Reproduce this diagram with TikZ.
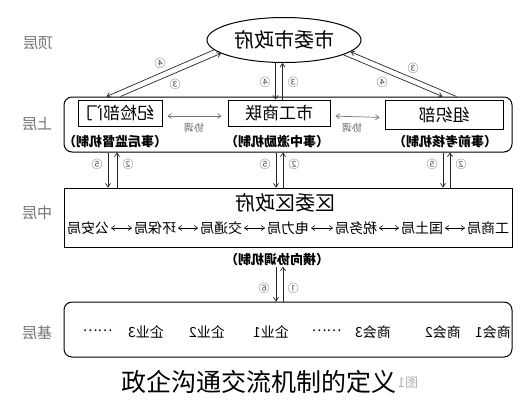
\documentclass[tikz,border=0pt]{standalone}
\usepackage{fontspec}
\setmainfont{Noto Sans CJK SC}
\usepackage{graphicx}
\usetikzlibrary{shapes.geometric,arrows.meta,calc}
\newcommand{\mr}[1]{\reflectbox{#1}}
\begin{document}
\begin{tikzpicture}[x=1pt,y=-1pt,line width=0.8pt,
  >={Straight Barb[length=3.5pt,width=5pt]},
  lyr/.style={text=black!55,font=\fontsize{15}{15}\selectfont,inner sep=0pt},
  inbox/.style={draw,line width=0.9pt,inner sep=0pt,font=\fontsize{17}{17}\selectfont},
  big/.style={draw,line width=1pt,inner sep=0pt,minimum width=448pt},
  sub/.style={font=\bfseries\fontsize{13}{13}\selectfont,inner sep=0pt},
  bur/.style={font=\fontsize{14}{14}\selectfont,inner sep=1pt},
  num/.style={font=\fontsize{11}{11}\selectfont,text=black!65,inner sep=0pt},
  xt/.style={font=\fontsize{10}{10}\selectfont,text=black!60,inner sep=0pt},
  ent/.style={font=\fontsize{14}{14}\selectfont,inner sep=0pt},
  arr/.style={->,line width=0.7pt,black!85},
  garr/.style={<->,line width=0.7pt,black!55},
  barr/.style={<->,line width=0.6pt,shorten <=0.5pt,shorten >=0.5pt}]
\useasboundingbox (0,0) rectangle (527,400);
\fill[white] (0,0) rectangle (527,400);

% layer labels
\node[lyr] (Ltop) at (38,43) {\mr{顶层}};
\node[lyr] (Lup)  at (37,124) {\mr{上层}};
\node[lyr] (Lmid) at (37,213) {\mr{中层}};
\node[lyr] (Lbas) at (37,333) {\mr{基层}};

% top ellipse
\node[ellipse,draw,line width=1pt,minimum width=154pt,minimum height=45pt,inner sep=0pt,
      font=\fontsize{20}{20}\selectfont] (gov) at (284,40) {\mr{市委市政府}};

% upper layer
\node[big,rounded corners=8pt,minimum height=55pt] (upper) at (288,124.5) {};
\node[inbox,minimum width=84pt,minimum height=26pt] (jj) at (120,113) {\mr{纪检部门}};
\node[inbox,minimum width=102pt,minimum height=26pt] (gsl) at (279,113) {\mr{市工商联}};
\node[inbox,minimum width=118pt,minimum height=29pt] (zzb) at (444,114.5) {\mr{组织部}};
\node[sub] (s1) at (115,142) {\mr{（事后监督机制）}};
\node[sub] (s2) at (277,142) {\mr{（事中激励机制）}};
\node[sub] (s3) at (445,142) {\mr{（事前考核机制）}};
\draw[garr,shorten <=5pt,shorten >=6pt] ([yshift=-3pt]jj.east) -- ([yshift=-3pt]gsl.west);
\draw[garr,shorten <=5pt,shorten >=5pt] ([yshift=-3pt]gsl.east) -- ([yshift=-3pt]zzb.west);
\node[xt] (xt1) at (194,128) {\mr{协调}};
\node[xt] (xt2) at (352,128) {\mr{协调}};

% middle layer
\node[big,minimum height=59pt] (mid) at (288,217.5) {};
\node[font=\fontsize{20}{20}\selectfont,inner sep=0pt] (qw) at (285,203) {\mr{区委区政府}};
\node[bur] (b1) at (88,228) {\mr{公安局}};
\node[bur] (b2) at (155,228) {\mr{环保局}};
\node[bur] (b3) at (221,228) {\mr{交通局}};
\node[bur] (b4) at (288,228) {\mr{电力局}};
\node[bur] (b5) at (356,228) {\mr{税务局}};
\node[bur] (b6) at (422,228) {\mr{国土局}};
\node[bur] (b7) at (488,228) {\mr{工商局}};
\foreach \a/\b in {b1/b2,b2/b3,b3/b4,b4/b5,b5/b6,b6/b7}
  \draw[barr] (\a.east) -- (\b.west);
\node[sub] (hx) at (277,260) {\mr{（横向协调机制）}};

% base layer
\node[big,rounded corners=8pt,minimum height=55pt] (base) at (288,329.5) {};
\node[ent] (e1) at (98,331) {\mr{……}};
\node[ent] (e2) at (146,332) {\mr{企业3}};
\node[ent] (e3) at (207,332) {\mr{企业2}};
\node[ent] (e4) at (271,332) {\mr{企业1}};
\node[ent] (e5) at (327,331) {\mr{……}};
\node[ent] (e6) at (373,332) {\mr{商会3}};
\node[ent] (e7) at (443,332) {\mr{商会2}};
\node[ent] (e8) at (493,332) {\mr{商会1}};

% connectors top <-> upper
\coordinate (pL4) at ($(upper.north west)+(43,0)$);
\coordinate (pL3) at ($(upper.north west)+(57,0)$);
\coordinate (pR4) at ($(upper.north west)+(379,0)$);
\coordinate (pR3) at ($(upper.north west)+(393,0)$);
\draw[arr] (gov.188) -- (pL4);
\draw[arr] (pL3) -- (gov.192);
\draw[arr] (gov.346) -- (pR4);
\draw[arr] (pR3) -- (gov.350);
\coordinate (pC4) at ($(gsl.north)+(-3.5,0)$);
\coordinate (pC3) at ($(gsl.north)+(3.5,0)$);
\draw[arr] (pC4 |- gov.south) -- (pC4);
\draw[arr] (pC3) -- (pC3 |- gov.south);
\node[num] (n1) at (160,63) {\mr{④}};
\node[num] (n2) at (175,84) {\mr{③}};
\node[num] (n3) at (265,82) {\mr{④}};
\node[num] (n4) at (293,82) {\mr{③}};
\node[num] (n5) at (382,82) {\mr{④}};
\node[num] (n6) at (413,68) {\mr{③}};

% connectors upper <-> middle
\foreach \xa/\xb/\k in {108/117/a,276/283/b,443/450/c}{
  \coordinate (d\k) at (\xa,0);
  \coordinate (u\k) at (\xb,0);
  \draw[arr] (d\k |- upper.south) -- (d\k |- mid.north);
  \draw[arr] (u\k |- mid.north) -- (u\k |- upper.south);
  \node[num] (f\k) at (\xa-11,164) {\mr{⑤}};
  \node[num] (t\k) at (\xb+11,164) {\mr{②}};
}

% connectors middle <-> base
\coordinate (pB6) at (276,0);
\coordinate (pB1) at (283,0);
\draw[arr] (pB6 |- hx.south) -- (pB6 |- base.north);
\draw[arr] (pB1 |- base.north) -- (pB1 |- hx.south);
\node[num] (n7) at (264,288) {\mr{⑥}};
\node[num] (n8) at (293,288) {\mr{①}};

% caption
\node[font=\fontsize{13}{13}\selectfont,text=black!30,inner sep=0pt] (fig) at (408,383) {\mr{图1}};
\node[font=\fontsize{25}{25}\selectfont,inner sep=0pt] (cap) at (259,382) {政企沟通交流机制的定义};
\end{tikzpicture}
\end{document}
